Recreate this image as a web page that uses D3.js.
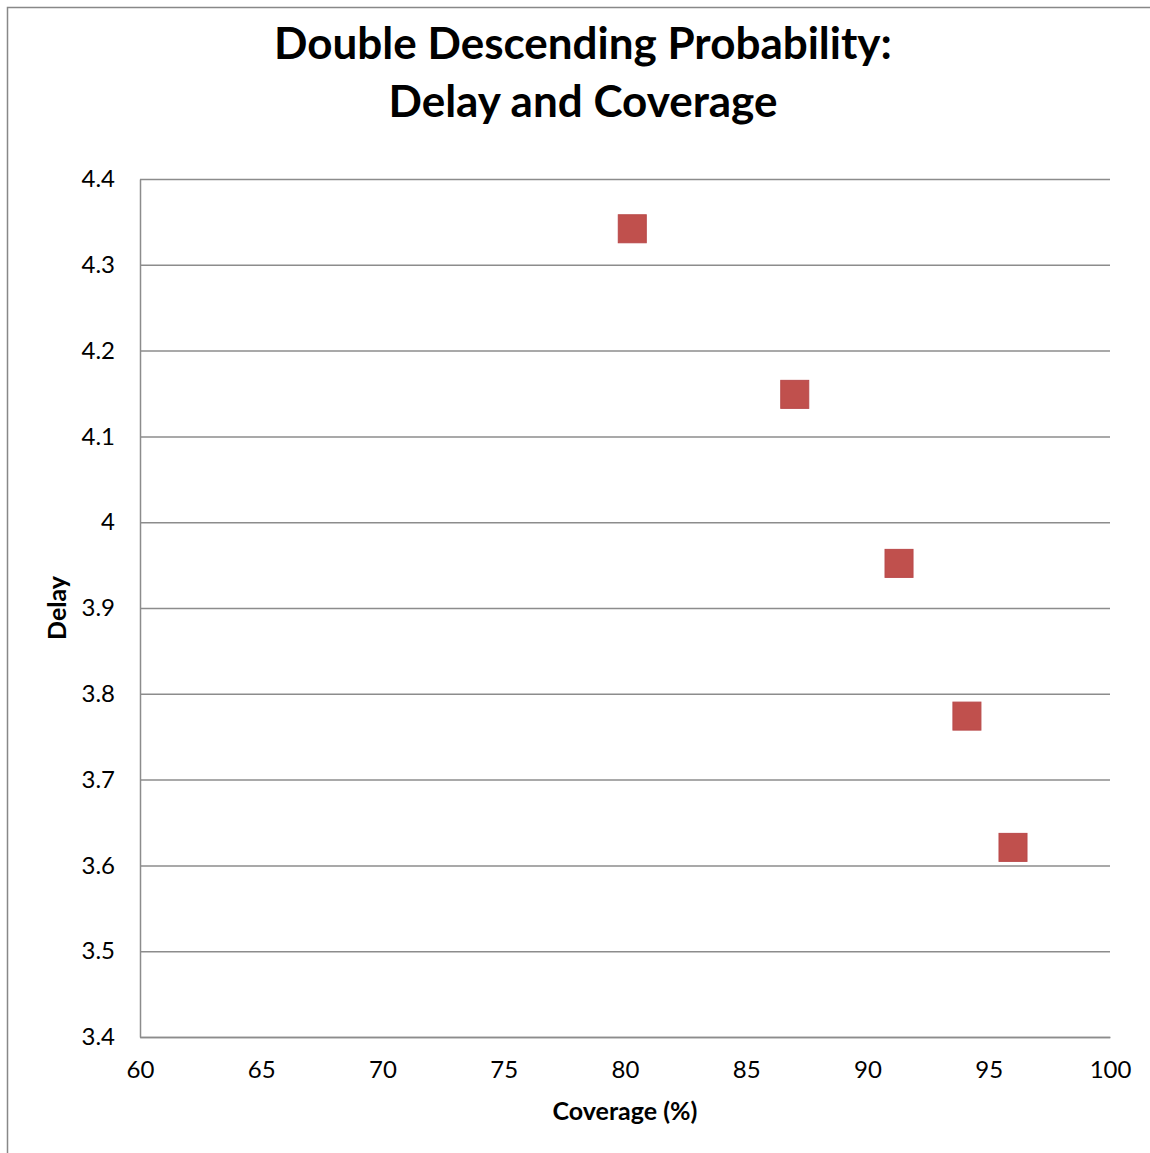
<!DOCTYPE html>
<html>
<head>
<meta charset="utf-8">
<script src="https://cdn.jsdelivr.net/npm/d3@7"></script>
<style>
  body { margin: 0; background: #fff; }
  svg { font-family: Lato, "Open Sans", sans-serif; }
</style>
</head>
<body>
<svg width="1150" height="1153"></svg>
<script>
// data
var coverage = [80.3, 87.0, 91.3, 94.1, 96.0];
var delay = [4.342, 4.149, 3.952, 3.774, 3.621];
var xTicks = [60, 65, 70, 75, 80, 85, 90, 95, 100];
var yTicks = [3.4, 3.5, 3.6, 3.7, 3.8, 3.9, 4, 4.1, 4.2, 4.3, 4.4];
var titleLines = ["Double Descending Probability:", "Delay and Coverage"];

var svg = d3.select("svg"),
    margin = {top: 179, right: 40, bottom: 116, left: 140},
    width = +svg.attr("width") - margin.left - margin.right,
    height = +svg.attr("height") - margin.top - margin.bottom;

// outer chart border
svg.append("rect")
    .attr("x", 7.5).attr("y", 7.5)
    .attr("width", 1160).attr("height", 1160)
    .attr("fill", "none")
    .attr("stroke", "#888")
    .attr("stroke-width", 1.5);

var x = d3.scaleLinear().domain([60, 100]).range([0, width]),
    y = d3.scaleLinear().domain([3.4, 4.4]).range([height, 0]);

var g = svg.append("g")
    .attr("transform", "translate(" + margin.left + "," + margin.top + ")");

// gridlines
g.append("g")
    .attr("class", "grid")
    .call(d3.axisLeft(y).tickValues(yTicks).tickSize(-width).tickFormat(""))
    .call(function(s) {
        s.select(".domain").remove();
        s.selectAll("line").attr("stroke", "#8c8c8c").attr("stroke-width", 1.5);
    });

// x axis
g.append("g")
    .attr("transform", "translate(0," + height + ")")
    .call(d3.axisBottom(x).tickValues(xTicks).tickSize(0).tickPadding(24).tickFormat(d3.format("d")))
    .call(function(s) {
        s.select(".domain").attr("stroke", "#8c8c8c").attr("stroke-width", 1.5);
        s.selectAll("text").attr("font-size", 24).attr("fill", "#000")
            .attr("font-family", "Lato, 'Open Sans', sans-serif");
    });

// y axis
g.append("g")
    .call(d3.axisLeft(y).tickValues(yTicks).tickSize(0).tickPadding(25).tickFormat(function(d) { return d3.format("")(+d.toFixed(1)); }))
    .call(function(s) {
        s.select(".domain").attr("stroke", "#8c8c8c").attr("stroke-width", 1.5);
        s.selectAll("text").attr("font-size", 24).attr("fill", "#000")
            .attr("font-family", "Lato, 'Open Sans', sans-serif");
    });

// points
var pts = coverage.map(function(c, i) { return {x: c, y: delay[i]}; });
var size = 28;
g.selectAll(".pt")
    .data(pts)
    .enter().append("rect")
    .attr("class", "pt")
    .attr("x", function(d) { return x(d.x) - size / 2; })
    .attr("y", function(d) { return y(d.y) - size / 2; })
    .attr("width", size)
    .attr("height", size)
    .attr("fill", "#c0504d")
    .attr("stroke", "#b9494a")
    .attr("stroke-width", 1);

// title
svg.append("text")
    .attr("text-anchor", "middle")
    .attr("font-size", 44)
    .attr("font-weight", "bold")
    .selectAll("tspan")
    .data(titleLines)
    .enter().append("tspan")
    .attr("x", 583)
    .attr("y", function(d, i) { return 59 + i * 58; })
    .text(function(d) { return d; });

// axis titles
svg.append("text")
    .attr("x", 625).attr("y", 1120)
    .attr("text-anchor", "middle")
    .attr("font-size", 25).attr("font-weight", "bold")
    .text("Coverage (%)");

svg.append("text")
    .attr("transform", "translate(66,608) rotate(-90)")
    .attr("text-anchor", "middle")
    .attr("font-size", 25).attr("font-weight", "bold")
    .text("Delay");
</script>
</body>
</html>
